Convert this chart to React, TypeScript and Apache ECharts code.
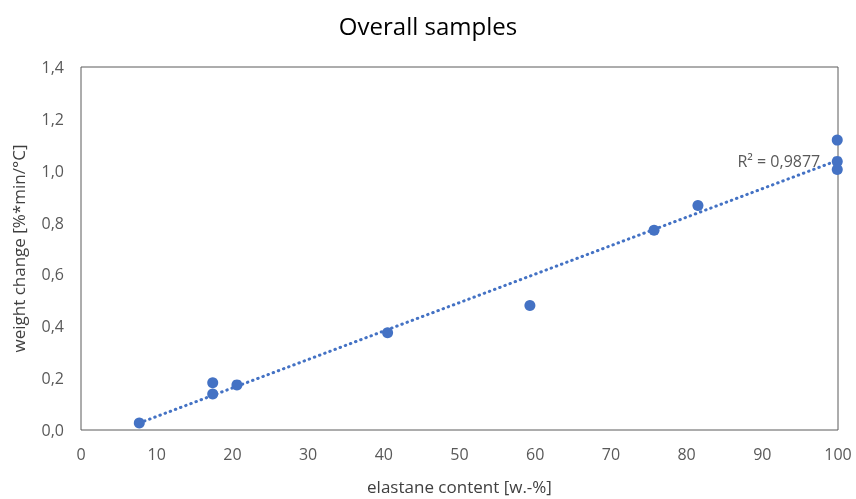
import React, { useEffect, useRef } from "react";
import * as echarts from "echarts";

const elastane = [7.7, 17.4, 17.4, 20.6, 40.5, 59.3, 75.7, 81.5, 99.9, 99.9, 99.9];
const weightChange = [0.027, 0.182, 0.139, 0.174, 0.375, 0.48, 0.77, 0.866, 1.118, 1.036, 1.005];
const xTicks = [0, 10, 20, 30, 40, 50, 60, 70, 80, 90, 100];
const yTicks = [0, 0.2, 0.4, 0.6, 0.8, 1.0, 1.2, 1.4];
const rSquaredText = "R² = 0,9877";

function linearFit(xs: number[], ys: number[]) {
  const n = xs.length;
  const mx = xs.reduce((a, b) => a + b, 0) / n;
  const my = ys.reduce((a, b) => a + b, 0) / n;
  let sxy = 0, sxx = 0;
  for (let i = 0; i < n; i++) {
    sxy += (xs[i] - mx) * (ys[i] - my);
    sxx += (xs[i] - mx) ** 2;
  }
  const slope = sxy / sxx;
  return { slope, intercept: my - slope * mx };
}

export default function App() {
  const ref = useRef<HTMLDivElement>(null);
  useEffect(() => {
    if (!ref.current) return;
    const chart = echarts.init(ref.current, undefined, { renderer: "svg" });
    const fit = linearFit(elastane, weightChange);
    const xMin = Math.min(...elastane);
    const xMax = Math.max(...elastane);
    const font = "Open Sans";
    const trend = [
      { value: [xMin, fit.slope * xMin + fit.intercept] },
      {
        value: [xMax, fit.slope * xMax + fit.intercept],
        label: {
          show: true,
          position: "left",
          offset: [-12, 0],
          formatter: rSquaredText,
          color: "#595959",
          fontSize: 16,
          fontFamily: font,
        },
      },
    ];
    chart.setOption({
      animation: false,
      title: {
        text: "Overall samples",
        left: "center",
        top: 8,
        textStyle: { fontFamily: font, fontSize: 24, fontWeight: "normal", color: "#000" },
      },
      grid: {
        left: 81,
        right: 18,
        top: 67,
        bottom: 69,
        containLabel: false,
        outerBoundsMode: "none",
        show: true,
        borderColor: "#5a5a5a",
        borderWidth: 1,
        backgroundColor: "#fff",
      },
      xAxis: {
        type: "value",
        min: xTicks[0],
        max: xTicks[xTicks.length - 1],
        interval: 10,
        name: "elastane content [w.-%]",
        nameLocation: "middle",
        nameGap: 48,
        nameTextStyle: { fontFamily: font, fontSize: 17, color: "#404040" },
        axisLine: { show: false },
        axisTick: { show: false },
        splitLine: { show: false },
        axisLabel: { fontFamily: font, fontSize: 16, color: "#595959", margin: 16 },
      },
      yAxis: {
        type: "value",
        min: yTicks[0],
        max: yTicks[yTicks.length - 1],
        interval: 0.2,
        name: "weight change [%*min/°C]",
        nameLocation: "middle",
        nameGap: 54,
        nameTextStyle: { fontFamily: font, fontSize: 17, color: "#404040" },
        axisLine: { show: false },
        axisTick: { show: false },
        splitLine: { show: false },
        axisLabel: {
          fontFamily: font,
          fontSize: 16,
          color: "#595959",
          margin: 17,
          formatter: (v: number) => v.toFixed(1).replace(".", ","),
        },
      },
      series: [
        {
          type: "line",
          data: trend,
          showSymbol: true,
          symbol: "circle",
          symbolSize: 0,
          lineStyle: { color: "#4472C4", width: 3, type: [0.5, 5], cap: "round" },
          z: 2,
        },
        {
          type: "scatter",
          data: elastane.map((x, i) => [x, weightChange[i]]),
          symbolSize: 11,
          itemStyle: { color: "#4472C4", opacity: 1 },
          z: 3,
        },
      ],
    });
    return () => chart.dispose();
  }, []);
  return <div ref={ref} style={{ position: "fixed", left: 0, top: 0, width: 856, height: 499 }} />;
}
